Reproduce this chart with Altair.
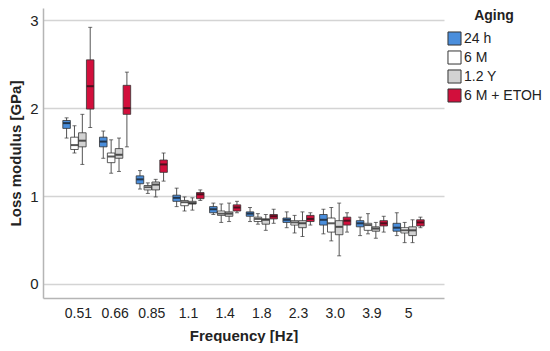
import altair as alt
import pandas as pd

freqs = ["0.51", "0.66", "0.85", "1.1", "1.4", "1.8", "2.3", "3.0", "3.9", "5"]
groups = ["24 h", "6 M", "1.2 Y", "6 M + ETOH"]
colors = ["#4A8EDC", "#FFFFFF", "#D2D2D2", "#D20F3C"]

h24_min = [1.66, 1.43, 1.08, 0.88, 0.79, 0.71, 0.64, 0.57, 0.55, 0.55]
h24_q1 = [1.77, 1.56, 1.14, 0.94, 0.81, 0.77, 0.70, 0.67, 0.65, 0.60]
h24_med = [1.83, 1.62, 1.19, 0.98, 0.85, 0.80, 0.73, 0.73, 0.69, 0.64]
h24_q3 = [1.86, 1.67, 1.23, 1.01, 0.88, 0.82, 0.75, 0.79, 0.72, 0.69]
h24_max = [1.89, 1.74, 1.29, 1.09, 0.92, 0.87, 0.82, 0.85, 0.76, 0.81]

m6_min = [1.49, 1.26, 1.03, 0.83, 0.70, 0.68, 0.58, 0.49, 0.57, 0.47]
m6_q1 = [1.53, 1.38, 1.07, 0.89, 0.78, 0.71, 0.67, 0.59, 0.61, 0.58]
m6_med = [1.58, 1.45, 1.10, 0.93, 0.80, 0.74, 0.70, 0.69, 0.67, 0.61]
m6_q3 = [1.67, 1.49, 1.12, 0.95, 0.83, 0.76, 0.72, 0.75, 0.69, 0.64]
m6_max = [1.80, 1.64, 1.15, 0.99, 0.91, 0.80, 0.78, 0.87, 0.80, 0.70]

y12_min = [1.36, 1.28, 0.99, 0.84, 0.71, 0.61, 0.54, 0.32, 0.52, 0.47]
y12_q1 = [1.56, 1.43, 1.07, 0.91, 0.77, 0.68, 0.64, 0.56, 0.60, 0.55]
y12_med = [1.63, 1.47, 1.13, 0.92, 0.80, 0.73, 0.69, 0.65, 0.63, 0.61]
y12_q3 = [1.72, 1.54, 1.16, 0.94, 0.82, 0.74, 0.72, 0.72, 0.65, 0.65]
y12_max = [1.93, 1.66, 1.19, 0.98, 0.92, 0.79, 0.82, 0.92, 0.70, 0.73]

etoh_min = [1.78, 1.56, 1.17, 0.95, 0.81, 0.69, 0.67, 0.59, 0.59, 0.64]
etoh_q1 = [1.99, 1.93, 1.27, 0.97, 0.83, 0.74, 0.71, 0.67, 0.66, 0.66]
etoh_med = [2.25, 2.00, 1.36, 1.02, 0.87, 0.77, 0.74, 0.72, 0.69, 0.70]
etoh_q3 = [2.55, 2.26, 1.41, 1.04, 0.90, 0.79, 0.78, 0.76, 0.72, 0.73]
etoh_max = [2.92, 2.41, 1.49, 1.07, 0.94, 0.85, 0.81, 0.81, 0.77, 0.76]

stats = {
    "24 h": (h24_min, h24_q1, h24_med, h24_q3, h24_max),
    "6 M": (m6_min, m6_q1, m6_med, m6_q3, m6_max),
    "1.2 Y": (y12_min, y12_q1, y12_med, y12_q3, y12_max),
    "6 M + ETOH": (etoh_min, etoh_q1, etoh_med, etoh_q3, etoh_max),
}

rows = []
for g in groups:
    mn, q1, md, q3, mx = stats[g]
    for i, f in enumerate(freqs):
        rows.append({"freq": f, "Aging": g, "min": mn[i], "q1": q1[i],
                     "med": md[i], "q3": q3[i], "max": mx[i]})
df = pd.DataFrame(rows)

FONT = "Liberation Sans"

x = alt.X("freq:N", sort=freqs, title="Frequency [Hz]",
          scale=alt.Scale(paddingInner=0.15, paddingOuter=0.54),
          axis=alt.Axis(labelAngle=0, ticks=False, labelPadding=8,
                        titlePadding=8, domainColor="#b5b5b5", domainWidth=1.5))
xo = alt.XOffset("Aging:N", sort=groups, scale=alt.Scale(paddingInner=0.04))
yscale = alt.Scale(domain=[-0.16, 3.14], nice=False, zero=False)

base = alt.Chart(df).encode(x=x, xOffset=xo)

whisk = base.mark_rule(color="#555555", strokeWidth=1).encode(
    y=alt.Y("min:Q", scale=yscale, title="Loss modulus [GPa]",
            axis=alt.Axis(values=[0, 1, 2, 3], format="d", ticks=False, labelPadding=5,
                          titlePadding=6, gridColor="#d4d4d4", gridWidth=1.5,
                          domainColor="#b5b5b5", domainWidth=1.5)),
    y2="max:Q",
)
box = base.mark_bar(stroke="#333333", strokeWidth=0.8).encode(
    y=alt.Y("q1:Q", scale=yscale),
    y2="q3:Q",
    color=alt.Color("Aging:N", sort=groups,
                    scale=alt.Scale(domain=groups, range=colors),
                    legend=alt.Legend(title="Aging", orient="none", legendX=404,
                                      legendY=1, symbolType="square",
                                      symbolSize=170, symbolStrokeColor="#333333",
                                      symbolStrokeWidth=1, rowPadding=0,
                                      labelOffset=2, padding=0,
                                      titleAnchor="middle", titlePadding=8)),
)
med = base.mark_tick(color="#111111", thickness=2, size=7).encode(
    y=alt.Y("med:Q", scale=yscale))
cap_lo = base.mark_tick(color="#333333", thickness=1, size=4).encode(
    y=alt.Y("min:Q", scale=yscale))
cap_hi = base.mark_tick(color="#333333", thickness=1, size=4).encode(
    y=alt.Y("max:Q", scale=yscale))

chart = alt.layer(whisk, box, med, cap_lo, cap_hi).properties(
    width=401, height=290,
    autosize=alt.AutoSizeParams(type="none"),
    padding={"left": 35, "top": 0, "right": 98, "bottom": 45},
).configure_view(stroke=None).configure_axis(
    labelFont=FONT, titleFont=FONT, labelColor="#222222", titleColor="#222222",
    titleFontWeight="bold", titleFontSize=15,
).configure_axisY(labelFontSize=15).configure_axisX(labelFontSize=14).configure_legend(
    labelFont=FONT, titleFont=FONT, labelFontSize=14, titleFontSize=14,
    titleFontWeight="bold", labelColor="#222222", titleColor="#222222",
)

chart.save("out.html", embed_options={"renderer": "svg", "actions": False})
